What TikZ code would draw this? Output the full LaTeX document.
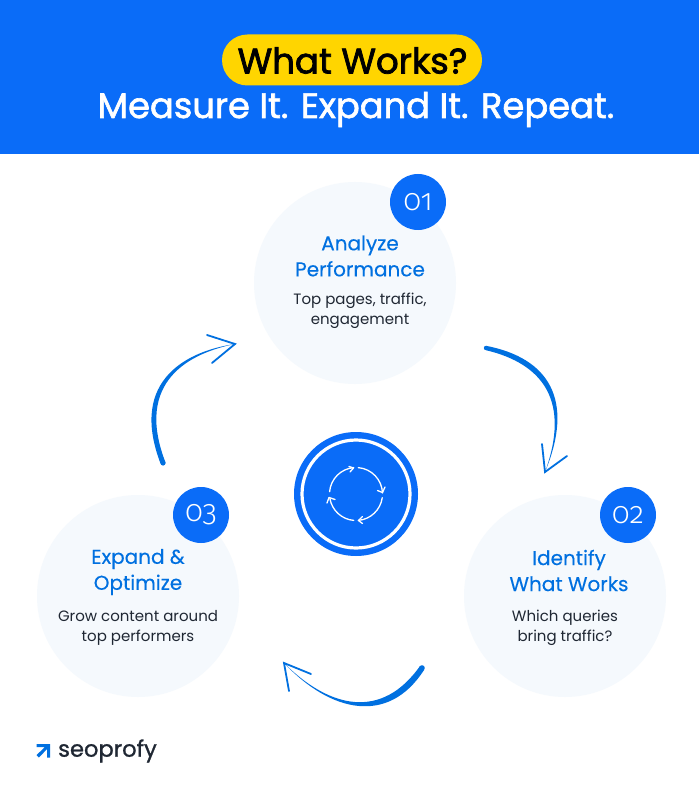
\documentclass[tikz,border=0pt]{standalone}
\usepackage{fontspec}
\usetikzlibrary{calc}
\setmainfont{Poppins}
\newfontfamily\headfont[FakeBold=2.2]{Poppins}
\newfontfamily\medfont[FakeBold=0.25]{Poppins}
\newfontfamily\subfont[FakeBold=1.8]{Poppins}
\newfontfamily\logofont[FakeBold=1.0]{Poppins}
\newfontfamily\numfont[Numbers=OldStyle]{Fira Sans Light}
\definecolor{brand}{HTML}{0A6CF8}
\definecolor{ink}{HTML}{0070E0}
\definecolor{pale}{HTML}{F5F9FD}
\definecolor{pill}{HTML}{FFD500}
\definecolor{dark}{HTML}{1F2733}
\tikzset{
  bubble/.style={circle,fill=pale,minimum size=202pt,inner sep=0},
  badge/.style={circle,fill=brand,minimum size=56pt,inner sep=0,text=white,font=\numfont\fontsize{30}{30}\selectfont},
  title/.style={text=ink,align=center,font=\medfont\fontsize{20}{26}\selectfont,inner sep=0},
  body/.style={text=dark,align=center,font=\fontsize{15}{20}\selectfont,inner sep=0},
  flow/.style={fill=ink,line join=round},
  head/.style={draw=ink,line width=1.8pt,line cap=round,line join=miter},
  mini/.style={draw=white,line width=1.3pt,line cap=round,line join=round},
}
\begin{document}
\begin{tikzpicture}[x=1pt,y=-1pt]
\useasboundingbox (0,0) rectangle (699,794);
\fill[white] (0,0) rectangle (699,794);
\fill[brand] (0,0) rectangle (699,154);
\node[fill=pill,rounded corners=25.5pt,minimum width=260pt,minimum height=51pt,inner sep=0] (pill) at (352,60) {};
\node[inner sep=0,font=\headfont\fontsize{35.5}{36}\selectfont,text=black] (ttl) at (352.5,60.5) {What Works?};
\node[inner sep=0,font=\subfont\fontsize{35.3}{36}\selectfont,text=white] (sub) at (356,109.5) {Measure It. Expand It. Repeat.};

\node[bubble] (b1) at (355,283) {};
\node[bubble] (b2) at (565,596) {};
\node[bubble] (b3) at (138,596) {};
\node[badge] (n1) at (418,202) {01};
\node[badge] (n2) at (628,515) {02};
\node[badge] (n3) at (201,515) {03};

\node[title] (t1) at (360,256) {Analyze\\Performance};
\node[body] (d1) at (360,311) {Top pages, traffic,\\engagement};
\node[title] (t2) at (569,570.5) {Identify\\What Works};
\node[body] (d2) at (565,628) {Which queries\\bring traffic?};
\node[title] (t3) at (138,572) {Expand \&\\Optimize};
\node[body] (d3) at (138,628) {Grow content around\\top performers};

% centre emblem
\node[circle,fill=brand,minimum size=124pt,inner sep=0] (hub) at (356,494) {};
\node[circle,draw=white,line width=3.2pt,minimum size=108pt,inner sep=0] (ring) at (hub) {};
\draw[mini] ($(hub)+(185:26.5)$) arc (185:265:26.5);
\draw[mini] (349,466.5) -- (353.5,468) -- (350,472);
\draw[mini] ($(hub)+(275:26.5)$) arc (275:358:26.5);
\draw[mini] (377.5,490.5) -- (382.5,492.5) -- (385,487);
\draw[mini] ($(hub)+(8:26.5)$) arc (8:85:26.5);
\draw[mini] (362.5,516.5) -- (358.5,520.5) -- (362.5,523.5);
\draw[mini] ($(hub)+(95:26.5)$) arc (95:170:26.5);
\draw[mini] (327,503) -- (329,497.5) -- (335,499.5);

% tapered connectors
\coordinate (a1s) at (486,348);
\coordinate (a1t) at (545,472);
\coordinate (a1l) at (542,444);
\coordinate (a1r) at (567,456);
\coordinate (a2s) at (422,668);
\coordinate (a2t) at (284,663);
\coordinate (a2l) at (311,674);
\coordinate (a2r) at (289,691);
\coordinate (a3s) at (163,463);
\coordinate (a3t) at (235,344);
\coordinate (a3l) at (207,335);
\coordinate (a3r) at (212,363);

\fill[flow] (486,345.8) .. controls (549,358) and (575,400) .. (a1t)
  .. controls (570.5,402) and (544,364) .. (486,350.2) -- cycle;
\fill[flow] (a1s) circle (2.2);
\draw[head] (a1l) -- (a1t) -- (a1r);

\fill[flow] (424,670) .. controls (388,726) and (330,712) .. (a2t)
  .. controls (330,709) and (382,720) .. (420,666) -- cycle;
\fill[flow] (a2s) circle (2.8);
\draw[head] (a2l) -- (a2t) -- (a2r);

\fill[flow] (165.5,462.5) .. controls (134,381) and (190,353) .. (a3t)
  .. controls (190,350.5) and (128,378) .. (160.5,463.5) -- cycle;
\fill[flow] (a3s) circle (2.6);
\draw[head] (a3l) -- (a3t) -- (a3r);

% logo
\fill[ink] (36.5,744) -- (50,744) -- (50,757.5) -- (47,757.5) -- (47,749.2) -- (38.8,757.5) -- (36.5,755.2) -- (44.8,747) -- (36.5,747) -- cycle;
\node[inner sep=0,anchor=west,text=dark,font=\logofont\fontsize{22.6}{23}\selectfont] (logo) at (58,751) {seoprofy};
\end{tikzpicture}
\end{document}
